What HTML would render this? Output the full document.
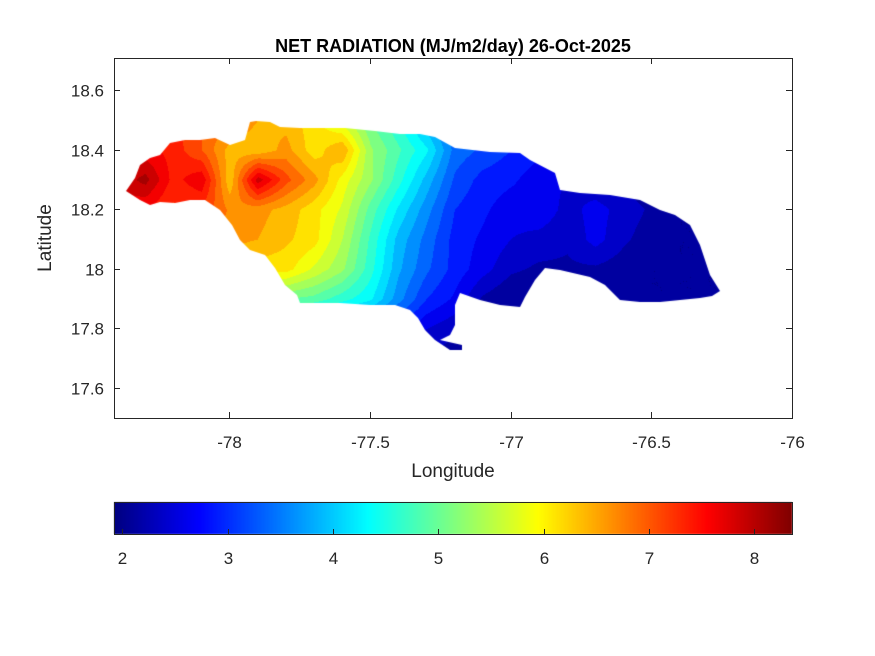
<!DOCTYPE html>
<html><head><meta charset="utf-8">
<style>
body{margin:0;background:#fff;width:875px;height:656px;overflow:hidden;font-family:"Liberation Sans",Arial,sans-serif;}
#wrap{position:relative;width:875px;height:656px;}
canvas{position:absolute;left:0;top:0;}
svg{position:absolute;left:0;top:0;}
</style></head><body>
<div id="wrap">
<canvas id="map" width="875" height="656"></canvas>
<svg id="svg" width="875" height="656"></svg>
</div>
<script>
// ---- data ----
const lons = [-78.4,-78.3,-78.2,-78.1,-78.0,-77.9,-77.8,-77.7,-77.6,-77.5,-77.4,-77.3,-77.2,-77.1,-77.0,-76.9,-76.8,-76.7,-76.6,-76.5,-76.4,-76.3,-76.2];
const lats = [18.5,18.4,18.3,18.2,18.1,18.0,17.9,17.8,17.7];
const row185 = [7.6,7.6,7.3,7.0,6.8,6.5,6.4,6.1,5.6,5.0,4.5,3.8,3.2,3.0,2.8,2.5,2.4,2.2,2.1,2.0,2.0,2.0,2.0];
const row184 = [7.6,7.6,7.4,7.0,6.4,6.3,6.6,6.1,6.5,5.3,4.8,4.3,3.4,3.2,3.0,2.8,2.6,2.4,2.3,2.2,2.1,2.0,2.0];
const row183 = [7.8,8.1,7.4,7.7,6.3,7.9,7.1,6.6,5.9,5.3,4.6,3.9,3.2,2.9,2.8,2.6,2.5,2.3,2.2,2.0,2.0,2.0,2.0];
const row182 = [7.6,7.5,7.2,7.2,6.7,6.6,6.4,6.1,5.7,4.9,4.2,3.6,3.0,2.8,2.6,2.7,2.4,2.6,2.4,2.2,2.0,2.0,2.0];
const row181 = [7.2,7.2,7.0,6.8,6.6,6.5,6.3,6.1,5.5,4.7,3.9,3.4,2.9,2.7,2.5,2.4,2.3,2.6,2.3,2.1,2.0,2.0,2.0];
const row180 = [6.6,6.6,6.5,6.3,6.2,6.1,6.1,5.7,5.3,4.6,3.8,3.3,2.9,2.6,2.3,2.2,2.2,2.2,2.1,2.0,2.0,2.0,2.0];
const row179 = [5.6,5.6,5.5,5.4,5.3,5.1,5.0,4.9,4.6,4.3,3.6,3.0,2.7,2.2,2.0,2.0,2.0,2.0,2.0,2.0,2.0,2.0,2.0];
const row178 = [4.5,4.5,4.4,4.3,4.2,4.0,3.8,3.6,3.4,3.2,2.9,2.5,2.3,2.1,2.0,2.0,2.0,2.0,2.0,2.0,2.0,2.0,2.0];
const row177 = [4.0,4.0,3.9,3.8,3.6,3.4,3.2,3.0,2.8,2.6,2.4,2.2,2.1,2.0,2.0,2.0,2.0,2.0,2.0,2.0,2.0,2.0,2.0];
const values = [row185,row184,row183,row182,row181,row180,row179,row178,row177];
const xTicks = [-78,-77.5,-77,-76.5,-76];
const xTickLabels = ["-78","-77.5","-77","-76.5","-76"];
const yTicks = [17.6,17.8,18,18.2,18.4,18.6];
const yTickLabels = ["17.6","17.8","18","18.2","18.4","18.6"];
const cbTicks = [2,3,4,5,6,7,8];
const cbTickLabels = ["2","3","4","5","6","7","8"];
const cmin = 1.92, cmax = 8.36;

// ---- geometry ----
const AX = {l:114, r:792, t:58, b:418};
const xmin=-78.41, xmax=-76;
function xs(lon){return AX.l+(lon-xmin)/(xmax-xmin)*(AX.r-AX.l);}
function ys(lat){return 90+(18.6-lat)*298;}
function invx(px){return xmin+(px-AX.l)/(AX.r-AX.l)*(xmax-xmin);}
function invy(py){return 18.6-(py-90)/298;}
const CB = {l:114, r:792, t:502, b:534};
function cbx(v){return CB.l+(v-cmin)/(cmax-cmin)*(CB.r-CB.l);}

// island outline (pixel shape of Jamaica)
const outline = [[126,191],[135,178],[140,165],[150,158],[160,155],[170,143],[185,140],[200,140],[215,138],[230,145],[245,140],[250,122],[256,121],[270,122],[280,127],[300,128],[315,128],[345,128],[375,131],[400,134],[420,134],[435,137],[455,148],[490,152],[520,153],[530,160],[555,173],[560,190],[580,193],[610,195],[640,200],[660,210],[675,215],[690,225],[700,245],[705,260],[710,275],[720,291],[712,296],[700,298],[680,300],[660,302],[640,302],[620,300],[605,285],[590,277],[560,270],[545,268],[535,280],[525,297],[520,307],[500,305],[480,300],[460,293],[455,305],[455,325],[450,335],[440,340],[462,345],[462,350],[450,350],[435,340],[425,330],[418,318],[410,310],[395,305],[370,305],[340,303],[300,303],[297,295],[285,285],[275,268],[265,255],[250,250],[240,240],[232,225],[220,210],[205,200],[190,200],[175,203],[160,202],[150,205],[140,200]];

function jet(v){
  let t=(v-cmin)/(cmax-cmin); t=Math.max(0,Math.min(1,t));
  const f=(x)=>Math.max(0,Math.min(1,x));
  const r=f(1.5-Math.abs(4*t-3)), g=f(1.5-Math.abs(4*t-2)), b=f(1.5-Math.abs(4*t-1));
  return [Math.round(r*255),Math.round(g*255),Math.round(b*255)];
}
function sample(lon,lat){
  let fi=(lon-lons[0])/(lons[1]-lons[0]); let fj=(lats[0]-lat)/(lats[0]-lats[1]);
  fi=Math.max(0,Math.min(lons.length-1.0001,fi)); fj=Math.max(0,Math.min(lats.length-1.0001,fj));
  const i=Math.floor(fi), j=Math.floor(fj), a=fi-i, b=fj-j;
  return values[j][i]*(1-a)*(1-b)+values[j][i+1]*a*(1-b)+values[j+1][i]*(1-a)*b+values[j+1][i+1]*a*b;
}

// ---- draw map ----
const cv=document.getElementById('map'); const ctx=cv.getContext('2d');
const img=ctx.createImageData(875,656);
const step=0.25;
for(let py=AX.t;py<AX.b;py++){for(let px=AX.l;px<AX.r;px++){
  let v=sample(invx(px),invy(py));
  v=Math.floor(v/step)*step+step/2;
  const c=jet(v); const k=(py*875+px)*4;
  img.data[k]=c[0];img.data[k+1]=c[1];img.data[k+2]=c[2];img.data[k+3]=255;
}}
const off=document.createElement('canvas'); off.width=875; off.height=656;
off.getContext('2d').putImageData(img,0,0);
ctx.save(); ctx.beginPath();
outline.forEach((p,i)=>{ if(i===0) ctx.moveTo(p[0],p[1]); else ctx.lineTo(p[0],p[1]); });
ctx.closePath(); ctx.clip(); ctx.drawImage(off,0,0); ctx.restore();
// colorbar
for(let px=CB.l;px<CB.r;px++){
  const v=cmin+(px-CB.l+0.5)/(CB.r-CB.l)*(cmax-cmin); const c=jet(v);
  ctx.fillStyle=`rgb(${c[0]},${c[1]},${c[2]})`; ctx.fillRect(px,CB.t,1,CB.b-CB.t);
}

// ---- svg axes ----
const NS='http://www.w3.org/2000/svg'; const svg=document.getElementById('svg');
function el(tag,attrs,parent){const e=document.createElementNS(NS,tag);for(const k in attrs)e.setAttribute(k,attrs[k]);(parent||svg).appendChild(e);return e;}
const frame=el('rect',{x:AX.l+0.5,y:AX.t+0.5,width:AX.r-AX.l,height:AX.b-AX.t,fill:'none',stroke:'#262626','stroke-width':1});


xTicks.forEach((t,i)=>{
  const x=Math.round(xs(t))+0.5;
  const tk=el('path',{d:`M${x},${AX.b}v-6M${x},${AX.t}v6`,stroke:'#262626'});
  
  
  const tx=el('text',{x:x,y:448,'text-anchor':'middle','font-size':'17px',fill:'#262626'}); tx.textContent=xTickLabels[i];
  
  
});
yTicks.forEach((t,i)=>{
  const y=Math.round(ys(t))+0.5;
  const tk=el('path',{d:`M${AX.l},${y}h6M${AX.r},${y}h-6`,stroke:'#262626'});
  
  
  const tx=el('text',{x:104,y:y+6,'text-anchor':'end','font-size':'17px',fill:'#262626'}); tx.textContent=yTickLabels[i];
  
  
});
const title=el('text',{x:453,y:52,'text-anchor':'middle','font-size':'18px','font-weight':'bold',fill:'#000'}); title.textContent='NET RADIATION (MJ/m2/day) 26-Oct-2025';


const xl=el('text',{x:453,y:477,'text-anchor':'middle','font-size':'19px',fill:'#262626'}); xl.textContent='Longitude';


const yl=el('text',{x:0,y:0,'text-anchor':'middle','font-size':'19px',fill:'#262626',transform:'translate(51,238) rotate(-90)'}); yl.textContent='Latitude';


const cbf=el('rect',{x:CB.l+0.5,y:CB.t+0.5,width:CB.r-CB.l,height:CB.b-CB.t,fill:'none',stroke:'#262626'});


cbTicks.forEach((t,i)=>{
  const x=Math.round(cbx(t))+0.5;
  const tk=el('path',{d:`M${x},${CB.b}v-5`,stroke:'#262626'});
  
  
  const tx=el('text',{x:x,y:564,'text-anchor':'middle','font-size':'17px',fill:'#262626'}); tx.textContent=cbTickLabels[i];
  
  
});
</script>
</body></html>
